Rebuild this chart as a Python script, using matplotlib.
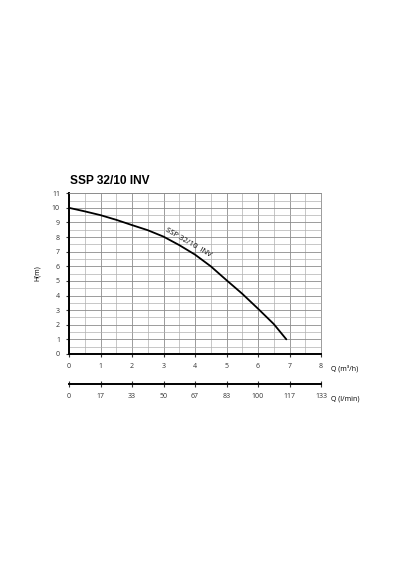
import matplotlib
matplotlib.use("Agg")
import matplotlib.pyplot as plt
import numpy as np

# pump curve SSP 32/10 INV
q_m3h = [0, 0.5, 1, 1.5, 2, 2.5, 3, 3.5, 4, 4.5, 5, 5.5, 6, 6.5, 6.9]
h_m = [10, 9.76, 9.5, 9.18, 8.82, 8.47, 8.03, 7.45, 6.8, 6.0, 5.05, 4.12, 3.1, 2.05, 1.0]

q_ticks = [0, 1, 2, 3, 4, 5, 6, 7, 8]
h_ticks = [0, 1, 2, 3, 4, 5, 6, 7, 8, 9, 10, 11]
lpm_labels = ["0", "17", "33", "50", "67", "83", "100", "117", "133"]

plt.rcParams['font.family'] = ['Open Sans', 'DejaVu Sans']

fig = plt.figure(figsize=(4, 5.7), dpi=100)
ax = fig.add_axes([0.1725, 0.379, 0.63, 0.282])

ax.plot(q_m3h, h_m, color='black', lw=1.3, solid_capstyle='round')
ax.set_xlim(0, 8)
ax.set_ylim(0, 11)
ax.set_xticks(q_ticks)
ax.set_yticks(h_ticks)
ax.set_xticks(np.arange(0, 8.01, 0.5), minor=True)
ax.set_yticks(np.arange(0, 11.01, 0.5), minor=True)
ax.grid(which='major', color='#8c8c8c', lw=0.6)
ax.grid(which='minor', color='#b0b0b0', lw=0.5)
ax.tick_params(which='major', length=2.5, width=0.8, labelsize=5, colors='#333333', pad=4)
ax.tick_params(which='minor', length=0)
for s in ['top', 'right']:
    ax.spines[s].set_color('#8c8c8c')
    ax.spines[s].set_linewidth(0.6)
for s in ['left', 'bottom']:
    ax.spines[s].set_color('black')
    ax.spines[s].set_linewidth(1.4)

ax.set_ylabel('H(m)', fontsize=5, labelpad=8)
ax.text(1.04, -0.09, 'Q (m³/h)', transform=ax.transAxes, fontsize=5, ha='left', va='center')
ax.text(3.78, 7.62, 'SSP 32/10  INV', fontsize=5.5, rotation=-30, ha='center', va='center',
        rotation_mode='anchor')
ax.text(0.02, 11.85, 'SSP 32/10 INV', fontsize=8.6, fontweight='bold',
        family=['Liberation Sans', 'DejaVu Sans'], ha='left', va='center')

# second flow scale in l/min
ax2 = fig.add_axes([0.1725, 0.326, 0.63, 0.001])
ax2.set_xlim(0, 8)
ax2.set_yticks([])
ax2.set_xticks(q_ticks)
ax2.set_xticklabels(lpm_labels)
for s in ['top', 'right', 'left']:
    ax2.spines[s].set_visible(False)
ax2.spines['bottom'].set_linewidth(1.4)
ax2.tick_params(axis='x', direction='inout', length=4, width=0.8, labelsize=5,
                colors='#333333', pad=4)
ax2.patch.set_visible(False)
ax.text(1.04, -0.28, 'Q (l/min)', transform=ax.transAxes, fontsize=5, ha='left', va='center')

fig.savefig('out.png', dpi=100)
